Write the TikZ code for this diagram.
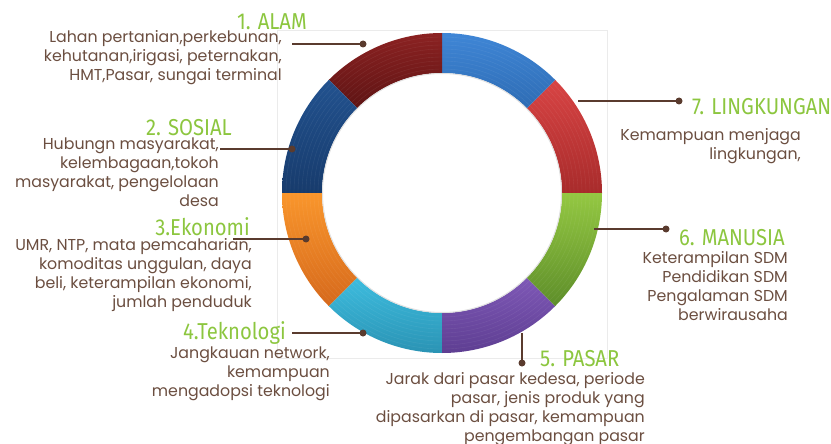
\documentclass[tikz,border=0pt]{standalone}
\usepackage{fontspec}
\setmainfont{Poppins}
\newfontfamily\headfont[FakeStretch=0.88]{Fira Sans}
\usetikzlibrary{positioning}

\definecolor{bodybrown}{HTML}{6B4E40}
\definecolor{leadbrown}{HTML}{5A3B2E}
\definecolor{headgreen}{HTML}{8CC63F}
\definecolor{frameline}{HTML}{EBEBEB}
% ring segment colours (light / dark)
\definecolor{segblueA}{HTML}{3F86D6}\definecolor{segblueB}{HTML}{2E6CB4}
\definecolor{segredA}{HTML}{D84444}\definecolor{segredB}{HTML}{A82B2B}
\definecolor{seggreenA}{HTML}{94C842}\definecolor{seggreenB}{HTML}{5E8E2A}
\definecolor{segpurpleA}{HTML}{7E58B6}\definecolor{segpurpleB}{HTML}{5E3E92}
\definecolor{segcyanA}{HTML}{3DBCDE}\definecolor{segcyanB}{HTML}{2A93B4}
\definecolor{segorangeA}{HTML}{F9962C}\definecolor{segorangeB}{HTML}{D6691C}
\definecolor{segnavyA}{HTML}{22528F}\definecolor{segnavyB}{HTML}{173B6C}
\definecolor{segmaroonA}{HTML}{8C2222}\definecolor{segmaroonB}{HTML}{5E1414}

\begin{document}
\begin{tikzpicture}[x=1pt, y=-1pt,
    body/.style={align=right, text=bodybrown, inner sep=0pt,
        font=\fontsize{15.8}{19}\selectfont},
    head/.style={text=headgreen, inner sep=0pt, text height=15pt, text depth=0pt,
        font=\headfont\fontsize{23}{23}\selectfont},
    leader/.style={draw=leadbrown, line width=1.3pt},
    dot/.style={circle, fill=leadbrown, inner sep=0pt, minimum size=7pt}]
\useasboundingbox (0,0) rectangle (831,444);
\draw[frameline] (277,30) rectangle (607,358);

% the ring, eight slices of 45 degrees
\begin{scope}[shift={(442,193)}, y=1pt]
  \foreach \a/\ca/\cb in {0/segredA/segredB, 45/segblueA/segblueB,
      90/segmaroonA/segmaroonB, 135/segnavyA/segnavyB,
      180/segorangeA/segorangeB, 225/segcyanA/segcyanB,
      270/segpurpleA/segpurpleB, 315/seggreenA/seggreenB}
    \shade[top color=\ca, bottom color=\cb]
      (\a:160) arc[start angle=\a, end angle=\a+45, radius=160]
      -- (\a+45:120) arc[start angle=\a+45, end angle=\a, radius=120] -- cycle;
  \foreach \r in {124,128,...,156}
    \draw[white, opacity=0.08, line width=0.4pt] (0,0) circle[radius=\r];
  \draw[black!12, line width=1pt] (0,0) circle[radius=119.5];
\end{scope}

% left side (body anchors sit on the last baseline)
\node[head, anchor=east] (alam-head) at (307,22) {1. ALAM};
\node[body, anchor=base east] (alam-text) at (282,81)
  {Lahan pertanian,perkebunan,\\ kehutanan,irigasi, peternakan,\\ HMT,Pasar, sungai terminal};
\node[head, anchor=east] (sosial-head) at (232,128) {2. SOSIAL};
\node[body, anchor=base east] (sosial-text) at (219,206)
  {Hubungn masyarakat,\\ kelembagaan,tokoh\\ masyarakat, pengelolaan\\ desa};
\node[head, anchor=east] (ekonomi-head) at (250,228) {3.Ekonomi};
\node[body, anchor=base east] (ekonomi-text) at (252,307)
  {UMR, NTP, mata pemcaharian,\\ komoditas unggulan, daya\\ beli, keterampilan ekonomi,\\ jumlah penduduk};
\node[head, anchor=east] (tekno-head) at (286,332) {4.Teknologi};
\node[body, anchor=base east] (tekno-text) at (330,396)
  {Jangkauan network,\\ kemampuan\\ mengadopsi teknologi};

% right side
\node[head, anchor=west] (pasar-head) at (540,359) {5. PASAR};
\node[body, anchor=base east] (pasar-text) at (645,441)
  {Jarak dari pasar kedesa, periode\\ pasar, jenis produk yang\\ dipasarkan di pasar, kemampuan\\ pengembangan pasar};
\node[head, anchor=east] (manusia-head) at (785,238) {6. MANUSIA};
\node[body, anchor=base east] (manusia-text) at (788,320)
  {Keterampilan SDM\\ Pendidikan SDM\\ Pengalaman SDM\\ berwirausaha};
\node[head, anchor=west] (lingk-head) at (692,107) {7. LINGKUNGAN};
\node[body, anchor=base east] (lingk-text) at (801,160)
  {Kemampuan menjaga\\ lingkungan,};

% leaders
\coordinate (alam-a) at (292,44);    \node[dot] (alam-dot) at (363,44) {};
\coordinate (sosial-a) at (220,149); \node[dot] (sosial-dot) at (292,149) {};
\coordinate (ekonomi-a) at (233,239);\node[dot] (ekonomi-dot) at (306,239) {};
\coordinate (tekno-a) at (292,333);  \node[dot] (tekno-dot) at (363,333) {};
\coordinate (pasar-a) at (522,333);  \node[dot] (pasar-dot) at (522,363) {};
\coordinate (manusia-a) at (594,229);\node[dot] (manusia-dot) at (666,229) {};
\coordinate (lingk-a) at (578,101);  \node[dot] (lingk-dot) at (679,101) {};
\foreach \n in {alam,sosial,ekonomi,tekno,pasar,manusia,lingk}
  \draw[leader] (\n-a) -- (\n-dot.center);
\end{tikzpicture}
\end{document}
